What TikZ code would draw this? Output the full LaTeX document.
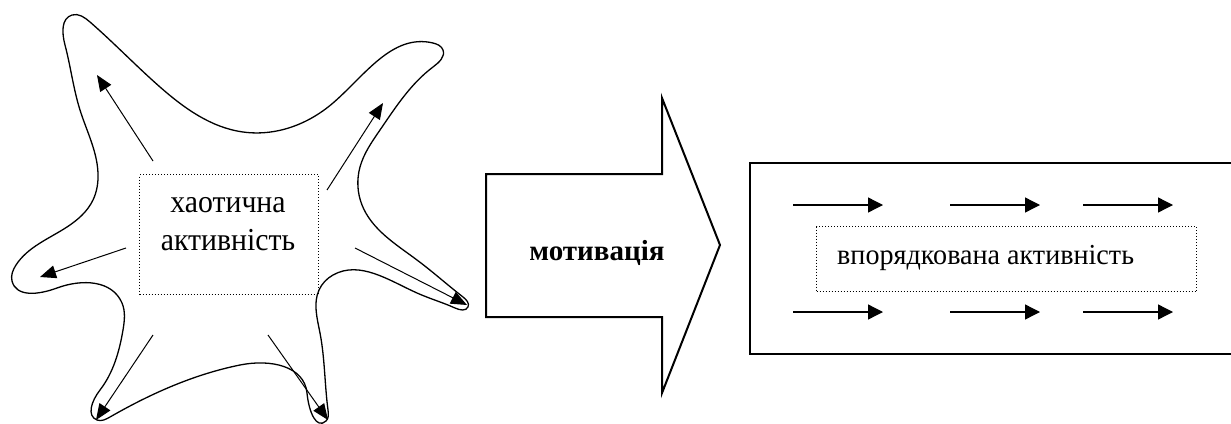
\documentclass[tikz,border=0pt]{standalone}
\usepackage{fontspec}
\setmainfont{Liberation Serif}
\usetikzlibrary{arrows.meta,hobby}
\newcommand{\narrowtxt}[1]{\scalebox{0.93}[1]{#1}}
\begin{document}
\begin{tikzpicture}[x=1pt,y=-1pt,
  outl/.style={line width=1.3pt, line join=round},
  ray/.style={line width=1pt, -{Triangle[length=16pt,width=13pt]}},
  ordray/.style={line width=1.3pt, -{Triangle[length=15pt,width=15pt]}},
  dotbox/.style={draw, dotted, line width=1pt},
  txt/.style={font=\fontsize{32}{38}\selectfont, inner sep=0pt, anchor=base}]
\useasboundingbox (0,0) rectangle (1231,423);
% star outline
\draw[outl, use Hobby shortcut, closed=true]
 (98,173) .. (80,110) .. (65,45) .. (72,15) .. (90,22) .. (160,87) .. (243,132)
 .. (333,103) .. (433,43) .. (443,50) .. (433,67) .. (380,130) .. (360,167)
 .. (362,205) .. (417,260) .. (463,297) .. (468,307) .. (455,308) .. (417,293)
 .. (333,275) .. (319,290) .. (320,333) .. (328,410) .. (326,421) .. (307,393)
 .. (240,365) .. (110,417) .. (97,420) .. (100,390) .. (123,330) .. (122,303)
 .. (57,288) .. (12,281) .. (16,265) .. (67,227) .. (93,200);
% centre text box
\node[dotbox, minimum width=179pt, minimum height=120pt, anchor=north west] (cbox) at (139,174) {};
\node[txt] (ctext1) at (228,212) {\narrowtxt{хаотична}};
\node[txt] (ctext2) at (228,250) {\narrowtxt{активність}};
% rays
\coordinate (s1) at (153,161); \coordinate (e1) at (97,75);
\coordinate (s2) at (327,190); \coordinate (e2) at (383,103);
\coordinate (s3) at (126,248); \coordinate (e3) at (40,277);
\coordinate (s4) at (355,248); \coordinate (e4) at (467,305);
\coordinate (s5) at (153,335); \coordinate (e5) at (96,420);
\coordinate (s6) at (268,335); \coordinate (e6) at (328,420);
\foreach \i in {1,...,6} \draw[ray] (s\i) -- (e\i);
% big arrow
\draw[line width=2pt, line join=miter] (486,174) -- (662,174) -- (662,98) -- (720,245) -- (662,393) -- (662,317) -- (486,317) -- cycle;
\node[font=\fontsize{29}{32}\selectfont\bfseries, inner sep=0pt, anchor=base] (mot) at (597,260) {мотивація};
% right box
\draw[line width=1.5pt] (1240,163) -- (750,163) -- (750,354) -- (1240,354);
\node[dotbox, minimum width=380pt, minimum height=65pt, anchor=north west] (obox) at (816,226) {};
\node[txt, font=\fontsize{29}{32}\selectfont, anchor=base west] (otext) at (837,264) {\scalebox{0.97}[1]{впорядкована активність}};
\foreach \x/\n in {793/a,950/b,1083/c} {
  \coordinate (t\n1) at (\x,205); \coordinate (h\n1) at (\x+90,205);
  \coordinate (t\n2) at (\x,312); \coordinate (h\n2) at (\x+90,312);
  \draw[ordray] (t\n1) -- (h\n1);
  \draw[ordray] (t\n2) -- (h\n2);
}
\end{tikzpicture}
\end{document}
